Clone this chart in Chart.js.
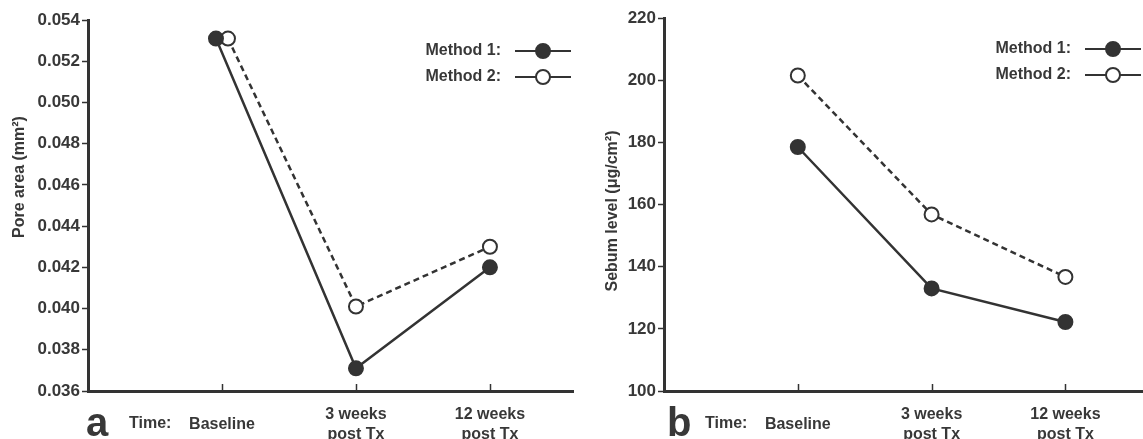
<!DOCTYPE html>
<html><head><meta charset="utf-8">
<script src="https://cdn.jsdelivr.net/npm/chart.js@4.4.1/dist/chart.umd.min.js"></script>
<style>
html,body{margin:0;padding:0;background:#fff;}
#wrap{display:flex;width:1143px;height:439px;}
canvas{display:block}
</style></head><body>
<div id="wrap"><canvas id="c1" width="575" height="439"></canvas><canvas id="c2" width="568" height="439"></canvas></div>
<script>
// ---- data ----
const timepoints = ['Baseline', ['3 weeks', 'post Tx'], ['12 weeks', 'post Tx']];
const seriesNames = ['Method 1:', 'Method 2:'];
const poreMethod1 = [0.0531, 0.0371, 0.0420];
const poreMethod2 = [0.0531, 0.0401, 0.0430];
const poreTicks = [0.036, 0.038, 0.040, 0.042, 0.044, 0.046, 0.048, 0.050, 0.052, 0.054];
const sebumMethod1 = [178.5, 133.0, 122.2];
const sebumMethod2 = [201.5, 156.8, 136.7];
const sebumTicks = [100, 120, 140, 160, 180, 200, 220];

const INK = '#333333';
const TXT = '#383838';
const FONT = "'Liberation Sans', Arial, sans-serif";

const decoPlugin = {
  id: 'deco',
  afterDatasetsUpdate(chart) {
    // dodge overlapping markers at identical category positions
    const m0 = chart.getDatasetMeta(0).data, m1 = chart.getDatasetMeta(1).data;
    for (let i = 0; i < m0.length; i++) {
      if (Math.abs(m0[i].y - m1[i].y) < 10) { m0[i].x -= 6; m1[i].x += 6; }
    }
  },
  afterDraw(chart, args, o) {
    const ctx = chart.ctx, ca = chart.chartArea, xs = chart.scales.x;
    ctx.save();
    // inner x tick marks
    ctx.strokeStyle = INK; ctx.lineWidth = 1.5;
    xs.ticks.forEach((t, i) => {
      const px = Math.round(xs.getPixelForTick(i)) + 0.5;
      ctx.beginPath(); ctx.moveTo(px, ca.bottom); ctx.lineTo(px, ca.bottom - 7); ctx.stroke();
    });
    // y title
    ctx.fillStyle = TXT;
    ctx.font = 'bold 16px ' + FONT;
    ctx.textAlign = 'center'; ctx.textBaseline = 'middle';
    ctx.save();
    ctx.translate(ca.left + o.titleDx, ca.top + o.titleDy);
    ctx.rotate(-Math.PI / 2);
    ctx.fillText(o.yTitle, 0, 0);
    ctx.restore();
    // panel letter and "Time:"
    ctx.textAlign = 'left'; ctx.textBaseline = 'alphabetic';
    ctx.font = 'bold 40px ' + FONT;
    ctx.fillText(o.panel, ca.left + o.panelDx, 436);
    ctx.font = 'bold 16px ' + FONT;
    ctx.textBaseline = 'middle';
    ctx.fillText('Time:', ca.left + 41, 424);
    // legend
    chart.data.datasets.forEach((ds, i) => {
      const y = ca.top + 31 + i * 26;
      ctx.fillStyle = TXT; ctx.textAlign = 'right';
      ctx.fillText(seriesNames[i], ca.right - 72, y);
      ctx.strokeStyle = INK; ctx.lineWidth = 2;
      ctx.beginPath(); ctx.moveTo(ca.right - 58, y); ctx.lineTo(ca.right - 2, y); ctx.stroke();
      ctx.beginPath(); ctx.arc(ca.right - 30, y, ds.pointRadius, 0, Math.PI * 2);
      ctx.fillStyle = ds.pointBackgroundColor; ctx.fill();
      ctx.lineWidth = ds.pointBorderWidth; ctx.strokeStyle = ds.pointBorderColor; ctx.stroke();
    });
    ctx.restore();
  }
};

function makeDatasets(v1, v2) {
  return [
    { data: v1.map((v, i) => ({ x: i + 1, y: v })), borderColor: INK, borderWidth: 2.5,
      pointRadius: 7, pointBackgroundColor: INK, pointBorderColor: INK, pointBorderWidth: 2 },
    { data: v2.map((v, i) => ({ x: i + 1, y: v })), borderColor: INK, borderWidth: 2.5, borderDash: [6, 4],
      pointRadius: 7, pointBackgroundColor: '#ffffff', pointBorderColor: INK, pointBorderWidth: 2 }
  ];
}

function makeChart(id, v1, v2, ticks, fmt, yW, padTop, padRight, xMax, deco) {
  return new Chart(document.getElementById(id), {
    type: 'line',
    data: { datasets: makeDatasets(v1, v2) },
    plugins: [decoPlugin],
    options: {
      responsive: false, animation: false,
      layout: { autoPadding: false, padding: { top: padTop, right: padRight, left: 0, bottom: 0 } },
      elements: { line: { tension: 0 } },
      clip: false,
      plugins: { legend: { display: false }, tooltip: { enabled: false }, deco: deco },
      scales: {
        x: {
          type: 'linear', min: 0, max: xMax,
          afterBuildTicks: s => { s.ticks = timepoints.map((t, i) => ({ value: i + 1 })); },
          afterFit: s => { s.height = 48; },
          grid: { display: false },
          border: { display: true, color: INK, width: 3 },
          ticks: { callback: v => timepoints[v - 1], color: TXT, crossAlign: 'center', padding: 16, maxRotation: 0, autoSkip: false,
            font: { family: FONT, size: 16, weight: 'bold', lineHeight: 1.25 } }
        },
        y: {
          min: ticks[0], max: ticks[ticks.length - 1],
          afterBuildTicks: s => { s.ticks = ticks.map(v => ({ value: v })); },
          afterFit: s => { s.width = yW; },
          grid: { drawOnChartArea: false, drawTicks: true, tickLength: 6, tickWidth: 1.5, tickColor: INK },
          border: { display: true, color: INK, width: 3 },
          ticks: { callback: fmt, color: TXT, padding: 2, font: { family: FONT, size: 17, weight: 'bold' } }
        }
      }
    }
  });
}

makeChart('c1', poreMethod1, poreMethod2, poreTicks, v => v.toFixed(3), 88, 20, 2, 3.62,
  { yTitle: 'Pore area (mm²)', titleDx: -68, titleDy: 157, panel: 'a', panelDx: -2 });
makeChart('c2', sebumMethod1, sebumMethod2, sebumTicks, v => String(v), 89, 18, 0, 3.58,
  { yTitle: 'Sebum level (μg/cm²)', titleDx: -51, titleDy: 193, panel: 'b', panelDx: 3 });
</script>
</body></html>
